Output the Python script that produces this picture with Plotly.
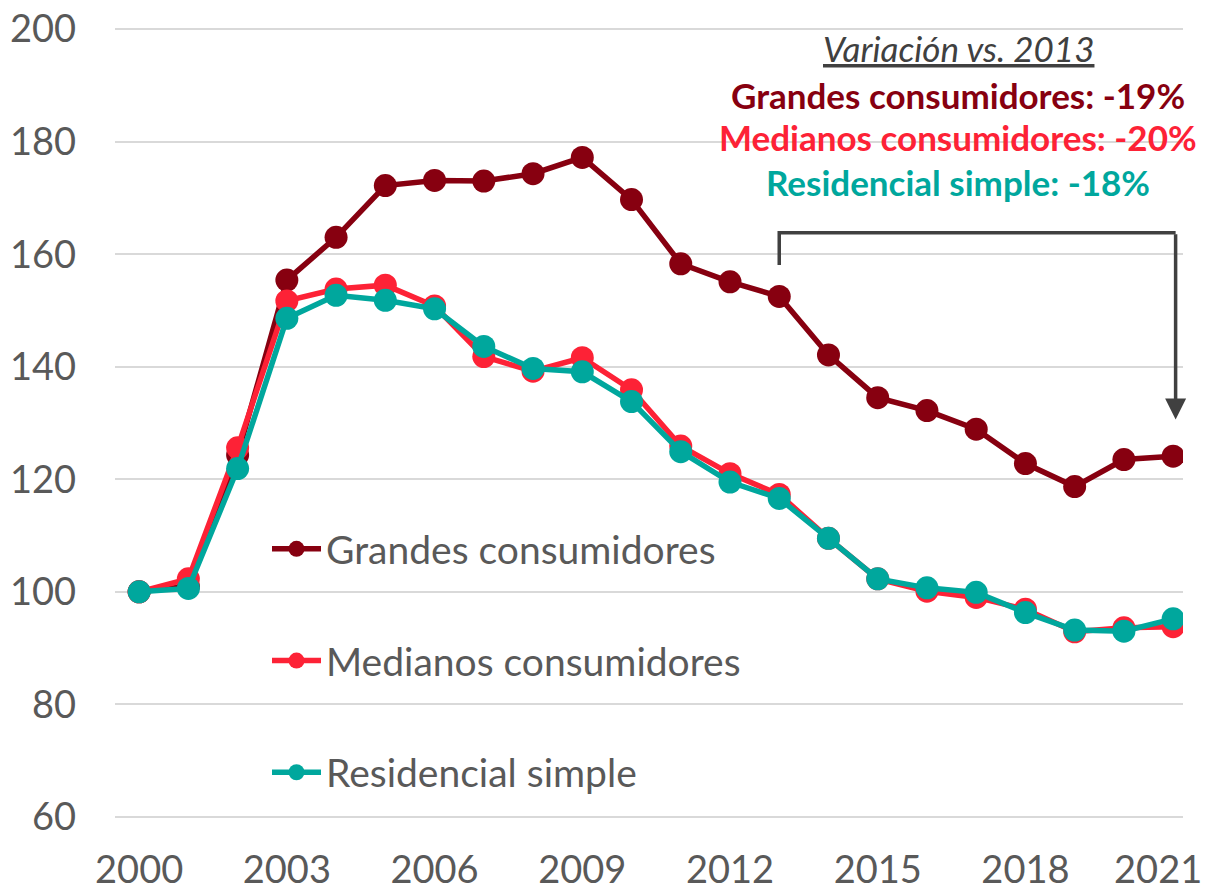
import plotly.graph_objects as go

years = list(range(2000, 2022))
grandes = [100, 101, 124.3, 155.4, 163.0, 172.2, 173.1, 173.0, 174.3, 177.2, 169.7, 158.3,
           155.1, 152.5, 142.1, 134.5, 132.2, 128.9, 122.8, 118.7, 123.5, 124.1]
medianos = [100, 102.3, 125.6, 151.7, 153.8, 154.5, 150.8, 141.8, 139.2, 141.6, 135.9, 125.9,
            121.0, 117.3, 109.5, 102.3, 100.1, 99.0, 96.9, 92.9, 93.6, 93.8]
residencial = [100, 100.6, 121.9, 148.6, 152.7, 151.8, 150.3, 143.6, 139.7, 139.1, 133.8, 124.9,
               119.5, 116.6, 109.5, 102.3, 100.7, 99.9, 96.3, 93.2, 93.0, 95.2]

names = ["Grandes consumidores", "Medianos consumidores", "Residencial simple"]
colors = ["#870010", "#FD2236", "#00A79D"]
series = [grandes, medianos, residencial]
x_ticks = [2000, 2003, 2006, 2009, 2012, 2015, 2018]
x_last_tick = [2021]
y_ticks = [60, 80, 100, 120, 140, 160, 180, 200]
notes = ["Grandes consumidores: -19%", "Medianos consumidores: -20%", "Residencial simple: -18%"]

FONT = "Lato"
GREY = "#595959"
X_RANGE = [1999.51, 2021.2]
Y_RANGE = [59.8, 200.2]

PL, PR, PT, PB = 115, 1183, 28, 818  # plot area in page pixels


def xp(px):
    return (px - PL) / (PR - PL)


def yp(py):
    return (PB - py) / (PB - PT)


fig = go.Figure()
for name, col, vals in zip(names, colors, series):
    fig.add_trace(go.Scatter(
        x=years, y=vals, name=name, mode="lines+markers",
        line=dict(color=col, width=5.5),
        marker=dict(color=col, size=23),
        legendgroup=name,
    ))
# empty helper trace so that the overlay axis carrying the last tick label is drawn
fig.add_trace(go.Scatter(x=x_last_tick, y=[None], xaxis="x2", showlegend=False,
                         hoverinfo="skip", mode="markers"))

fig.update_layout(
    width=1207, height=890,
    margin=dict(l=PL, r=1207 - PR, t=PT, b=890 - PB, autoexpand=False),
    paper_bgcolor="white", plot_bgcolor="white",
    font=dict(family=FONT, color=GREY),
    showlegend=True,
    legend=dict(
        x=xp(267), y=yp(517), xanchor="left", yanchor="top",
        font=dict(size=39, color=GREY, family=FONT),
        bgcolor="rgba(0,0,0,0)",
        tracegroupgap=58,
        itemwidth=49,
    ),
    xaxis=dict(
        range=X_RANGE, tickvals=x_ticks, showgrid=False, zeroline=False,
        showline=False, ticks="", automargin=False, ticklabelstandoff=26,
        ticklabeloverflow="allow",
        tickfont=dict(size=38, color=GREY, family=FONT),
    ),
    xaxis2=dict(
        overlaying="x", anchor="y", side="bottom", range=X_RANGE, tickvals=x_last_tick,
        showgrid=False, zeroline=False, showline=False, ticks="", automargin=False,
        ticklabelstandoff=26, ticklabelshift=-15, ticklabeloverflow="allow",
        tickfont=dict(size=38, color=GREY, family=FONT),
    ),
    yaxis=dict(
        range=Y_RANGE, tickvals=y_ticks, showgrid=True, gridcolor="#D9D9D9", gridwidth=2,
        zeroline=False, showline=False, ticks="", ticklabelstandoff=38, automargin=False,
        ticklabeloverflow="allow",
        tickfont=dict(size=38, color=GREY, family=FONT),
    ),
)

# Annotation text block
fig.add_annotation(xref="paper", yref="paper", x=xp(958), y=yp(48), xanchor="center",
                   yanchor="middle", text="<i><u>Variación vs. 2013</u></i>", showarrow=False,
                   font=dict(size=35, color="#404040", family=FONT))
for t, c, ypx in zip(notes, colors, [95, 137, 182]):
    fig.add_annotation(xref="paper", yref="paper", x=xp(958), y=yp(ypx), xanchor="center",
                       yanchor="middle", text=f"<b>{t}</b>", showarrow=False,
                       font=dict(size=35, color=c, family=FONT))

# Bracket from 2013 to 2021
fig.add_shape(type="path", xref="x", yref="y",
              path="M 2013,158.1 L 2013,163.8 L 2021.05,163.8",
              line=dict(color="#404040", width=3.5))
fig.add_annotation(xref="x", yref="y", axref="x", ayref="y",
                   x=2021.05, y=130.6, ax=2021.05, ay=163.8, text="",
                   showarrow=True, arrowhead=2, arrowsize=1.2, arrowwidth=3.5,
                   arrowcolor="#404040")

fig.write_html("out.html", config={"displayModeBar": False},
               post_script="document.body.style.margin='0';document.body.style.overflow='hidden';")
